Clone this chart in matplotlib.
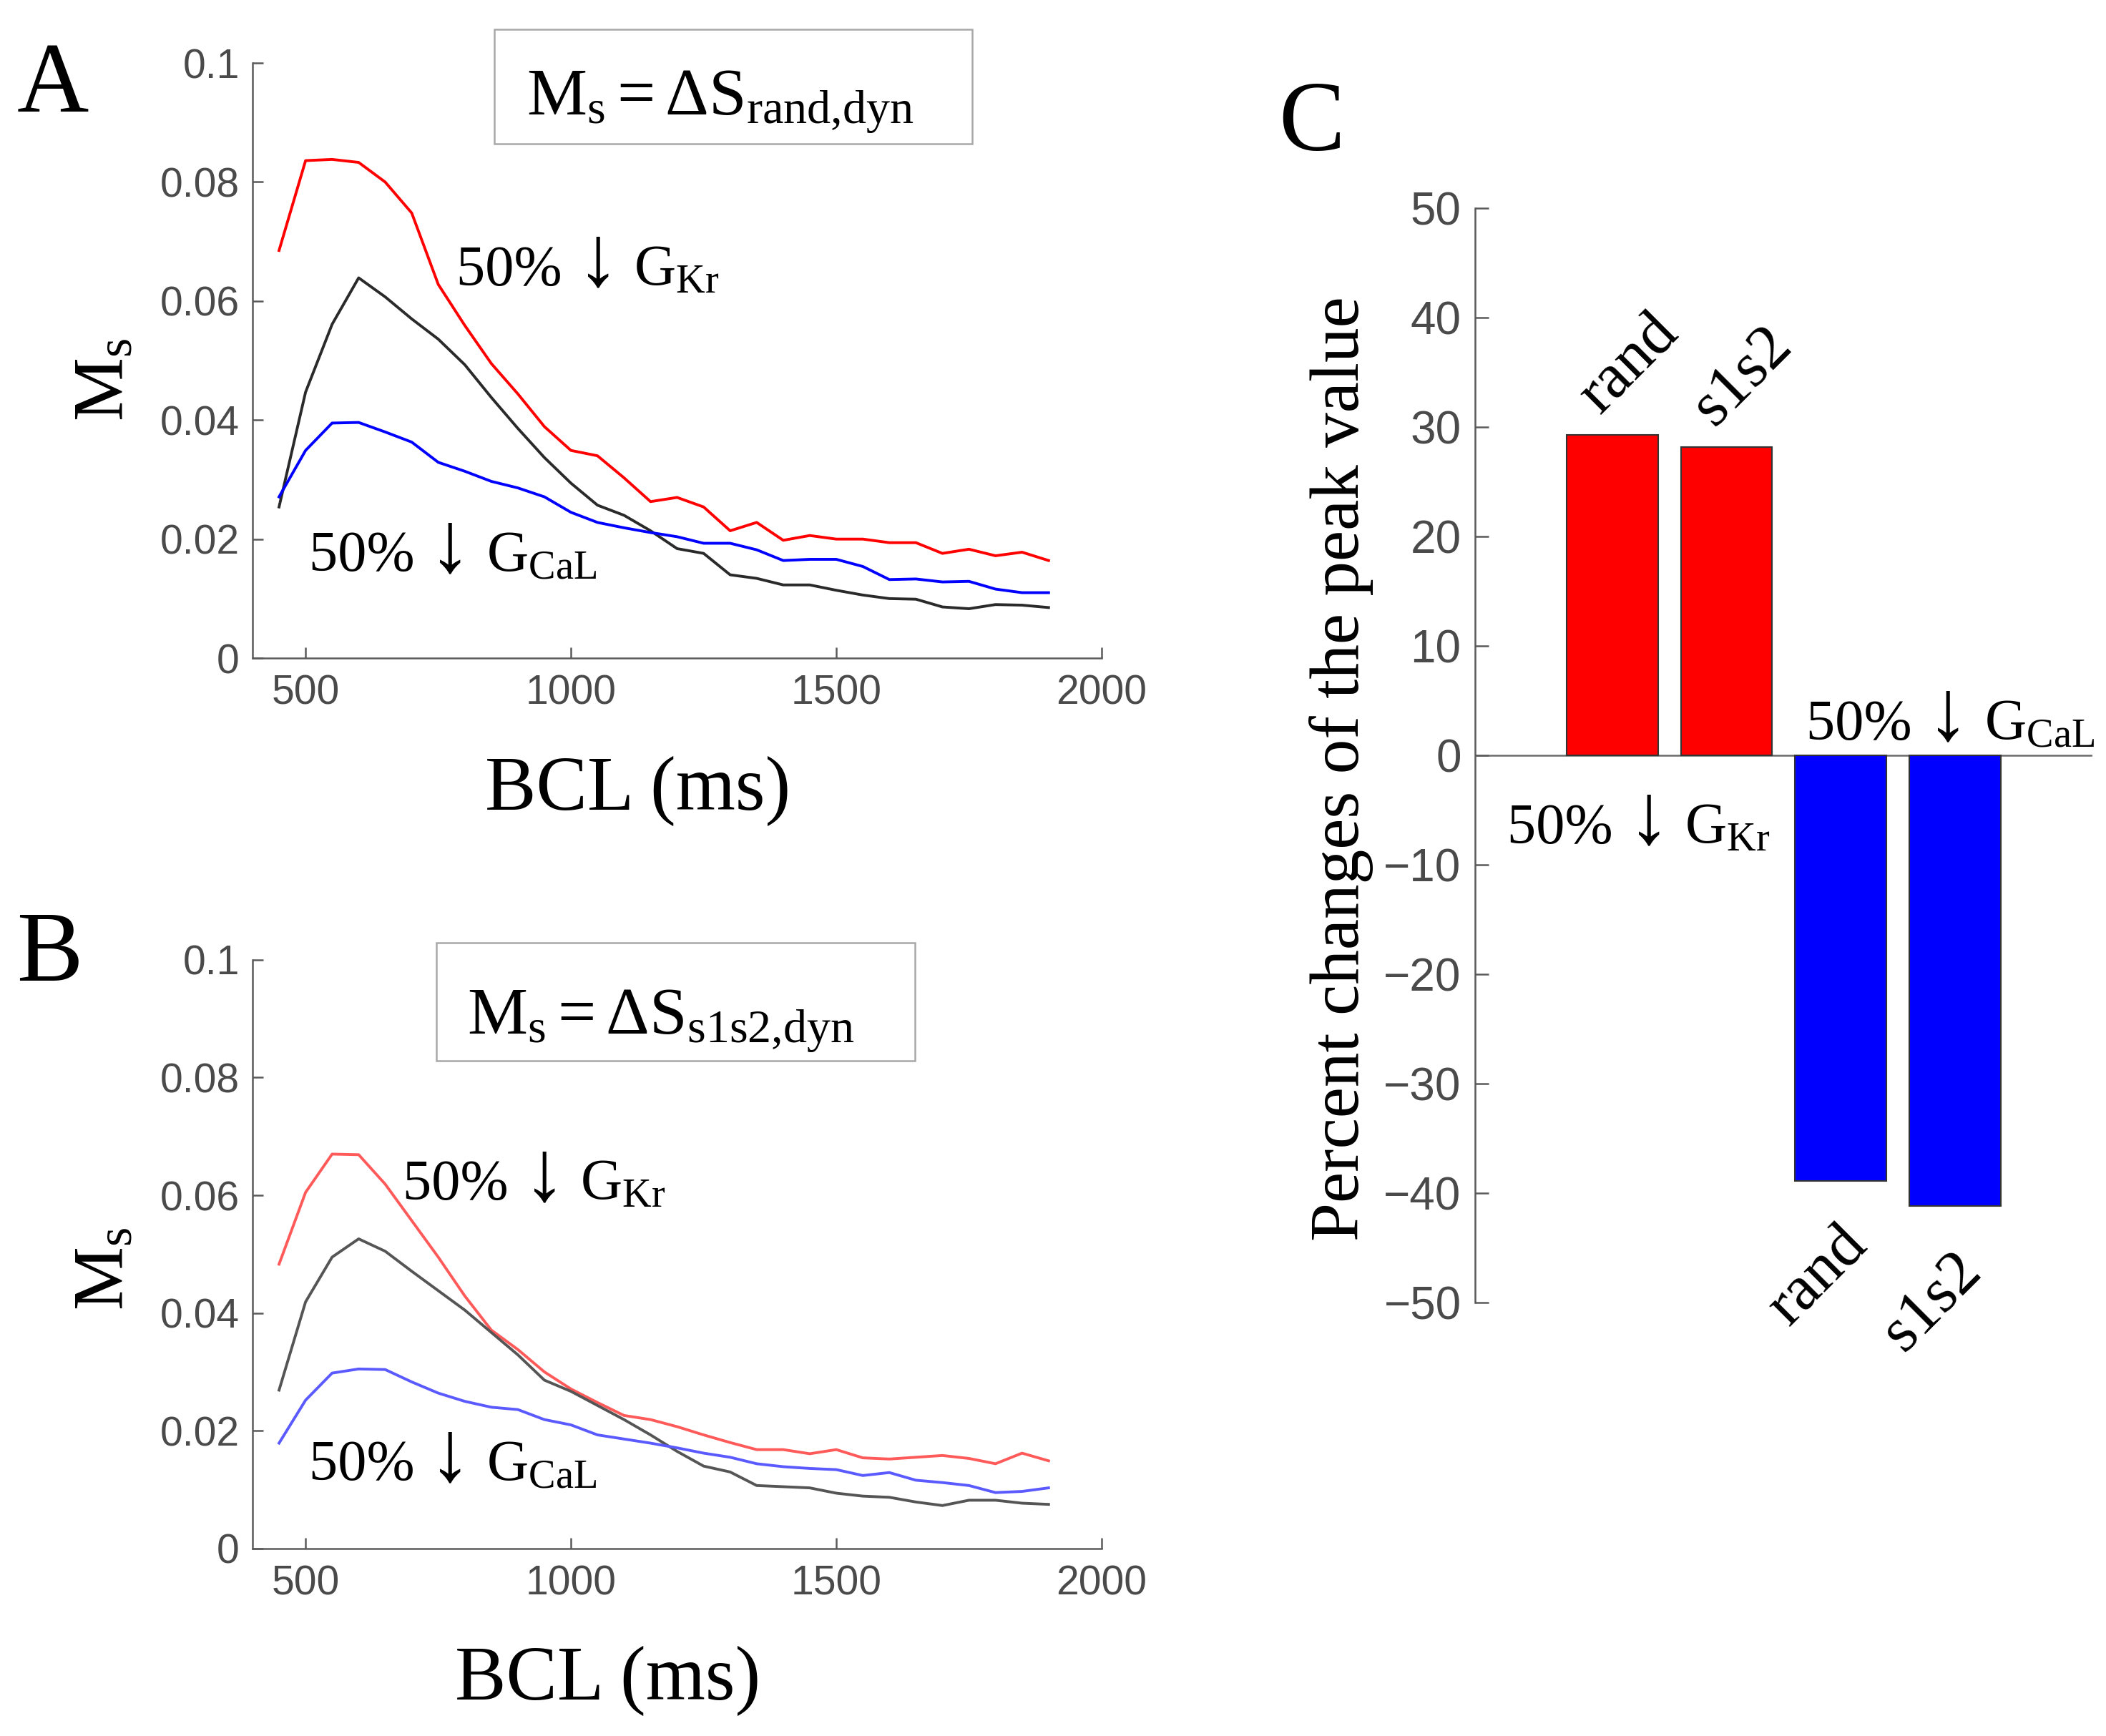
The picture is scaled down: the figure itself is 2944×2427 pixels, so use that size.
import matplotlib
matplotlib.use('Agg')
import matplotlib.pyplot as plt
from matplotlib.patches import Rectangle
from matplotlib.offsetbox import TextArea, HPacker, AnnotationBbox

plt.rcParams['mathtext.fontset'] = 'custom'
plt.rcParams['mathtext.rm'] = 'Liberation Serif'
plt.rcParams['mathtext.it'] = 'Liberation Serif:italic'
plt.rcParams['mathtext.bf'] = 'Liberation Serif:bold'
plt.rcParams['font.family'] = ['Liberation Serif', 'DejaVu Serif']

# ---------------- data ----------------
bcl = [450, 500, 550, 600, 650, 700, 750, 800, 850, 900, 950, 1000, 1050, 1100, 1150,
       1200, 1250, 1300, 1350, 1400, 1450, 1500, 1550, 1600, 1650, 1700, 1750, 1800, 1850, 1900]

a_gkr = [0.0685, 0.0836, 0.0838, 0.0833, 0.0800, 0.0748, 0.0628, 0.0559, 0.0495, 0.0444,
         0.0389, 0.0349, 0.0340, 0.0303, 0.0263, 0.0270, 0.0254, 0.0214, 0.0228, 0.0198,
         0.0206, 0.0200, 0.0200, 0.0194, 0.0194, 0.0176, 0.0183, 0.0172, 0.0178, 0.0164]
a_ctrl = [0.0254, 0.0447, 0.0561, 0.0639, 0.0607, 0.0570, 0.0536, 0.0493, 0.0438, 0.0386,
          0.0337, 0.0294, 0.0257, 0.0240, 0.0214, 0.0184, 0.0176, 0.0140, 0.0134, 0.0123,
          0.0123, 0.0114, 0.0106, 0.0100, 0.0099, 0.0086, 0.0083, 0.0090, 0.0089, 0.0085]
a_gcal = [0.0271, 0.0349, 0.0395, 0.0396, 0.0380, 0.0363, 0.0329, 0.0314, 0.0297, 0.0286,
          0.0271, 0.0245, 0.0228, 0.0219, 0.0211, 0.0204, 0.0193, 0.0193, 0.0182, 0.0164,
          0.0166, 0.0166, 0.0154, 0.0132, 0.0133, 0.0128, 0.0129, 0.0116, 0.0110, 0.0110]

b_gkr = [0.0483, 0.0605, 0.0670, 0.0669, 0.0619, 0.0557, 0.0495, 0.0429, 0.0371, 0.0338,
         0.0300, 0.0271, 0.0248, 0.0226, 0.0219, 0.0207, 0.0193, 0.0180, 0.0168, 0.0168,
         0.0161, 0.0168, 0.0154, 0.0152, 0.0155, 0.0158, 0.0153, 0.0144, 0.0162, 0.0149]
b_ctrl = [0.0269, 0.0419, 0.0495, 0.0526, 0.0505, 0.0471, 0.0438, 0.0405, 0.0367, 0.0329,
          0.0286, 0.0267, 0.0243, 0.0219, 0.0193, 0.0165, 0.0140, 0.0130, 0.0107, 0.0105,
          0.0103, 0.0094, 0.0089, 0.0087, 0.0079, 0.0073, 0.0082, 0.0082, 0.0077, 0.0075]
b_gcal = [0.0179, 0.0252, 0.0298, 0.0305, 0.0304, 0.0283, 0.0264, 0.0250, 0.0240, 0.0236,
          0.0219, 0.0210, 0.0193, 0.0186, 0.0179, 0.0171, 0.0162, 0.0155, 0.0144, 0.0139,
          0.0136, 0.0134, 0.0124, 0.0129, 0.0116, 0.0112, 0.0107, 0.0095, 0.0097, 0.0103]

ms_ticks = [0, 0.02, 0.04, 0.06, 0.08, 0.1]
ms_ticklabels = ['0', '0.02', '0.04', '0.06', '0.08', '0.1']
bcl_ticks = [500, 1000, 1500, 2000]
bcl_ticklabels = ['500', '1000', '1500', '2000']

bar_labels = ['rand', 's1s2', 'rand', 's1s2']
bar_values = [29.3, 28.2, -38.9, -41.2]
bar_colors = ['#ff0000', '#ff0000', '#0000ff', '#0000ff']
pct_ticks = [-50, -40, -30, -20, -10, 0, 10, 20, 30, 40, 50]
pct_ticklabels = [('\u2212%d' % -t) if t < 0 else '%d' % t for t in pct_ticks]

# ---------------- style ----------------
SPINE = '#5a5a5a'
TICKC = '#4a4a4a'
SANS = 'Liberation Sans'

fig = plt.figure(figsize=(29.44, 24.27), dpi=100)
axA = fig.add_axes([0.1199, 0.6209, 0.4032, 0.3428])
axB = fig.add_axes([0.1199, 0.1080, 0.4032, 0.3391])
axC = fig.add_axes([0.7004, 0.2497, 0.2931, 0.6304])


def gate_label(ax, x, y, sub, fs=58):
    parts = [TextArea('50% ', textprops=dict(fontsize=fs)),
             TextArea('\u2193', textprops=dict(fontsize=fs * 1.5)),
             TextArea(' G$_{\\mathrm{%s}}$' % sub, textprops=dict(fontsize=fs))]
    box = HPacker(children=parts, align='baseline', pad=0, sep=0)
    ab = AnnotationBbox(box, (x, y), xycoords='data', xybox=(0, -19),
                        boxcoords='offset points', box_alignment=(0, 0),
                        frameon=False, pad=0, annotation_clip=False)
    ax.add_artist(ab)


def style_line_axes(ax):
    for s in ['top', 'right']:
        ax.spines[s].set_visible(False)
    for s in ['left', 'bottom']:
        ax.spines[s].set_color(SPINE)
        ax.spines[s].set_linewidth(1.8)
    ax.set_xlim(400, 2000)
    ax.set_ylim(0, 0.1)
    ax.set_xticks(bcl_ticks, bcl_ticklabels, fontfamily=SANS)
    ax.set_yticks(ms_ticks, ms_ticklabels, fontfamily=SANS)
    ax.tick_params(direction='in', length=11, width=1.8, color=SPINE,
                   labelcolor=TICKC, labelsize=41)
    ax.tick_params(axis='y', pad=13)
    ax.tick_params(axis='x', pad=16)
    ax.set_xlabel('BCL (ms)', fontsize=77, va='top')
    ax.set_ylabel(r'M$_{\mathrm{s}}$', fontsize=72)


for ax, series, cols in [
        (axA, (a_gkr, a_ctrl, a_gcal), ('#ff0000', '#2a2a2a', '#0000ff')),
        (axB, (b_gkr, b_ctrl, b_gcal), ('#ff5a5a', '#555555', '#5a5aff'))]:
    style_line_axes(ax)
    for yv, c in zip(series, cols):
        ax.plot(bcl, yv, color=c, lw=2.8)

axA.xaxis.set_label_coords(0.454, -0.165)
axB.xaxis.set_label_coords(0.418, -0.165)
axA.yaxis.set_label_coords(-0.135, 0.4675)
axB.yaxis.set_label_coords(-0.135, 0.475)

# formula boxes
for ax, txt, (x0, x1, y0, y1), (tx, ty) in [
        (axA, r'$\mathrm{M_s = \Delta S_{rand{,}dyn}}$', (0.285, 0.8475, 0.864, 1.0565), (0.3227, 0.913)),
        (axB, r'$\mathrm{M_s = \Delta S_{s1s2{,}dyn}}$', (0.2165, 0.780, 0.829, 1.029), (0.2527, 0.874))]:
    ax.add_patch(Rectangle((x0, y0), x1 - x0, y1 - y0, transform=ax.transAxes,
                           fill=False, edgecolor='#a8a8a8', lw=1.8, clip_on=False))
    ax.text(tx, ty, txt, transform=ax.transAxes, fontsize=68, ha='left', va='baseline')

# annotations
gate_label(axA, 784, 0.0627, 'Kr')
gate_label(axA, 506, 0.0147, 'CaL')
gate_label(axB, 683, 0.0593, 'Kr')
gate_label(axB, 506, 0.0117, 'CaL')

# ---------------- panel C ----------------
pos = list(range(1, len(bar_values) + 1))
axC.axhline(0, color='#6a6a6a', lw=1.8, zorder=1)
axC.bar(pos, bar_values, width=0.8, color=bar_colors, edgecolor='#333333', linewidth=1.5, zorder=2)
axC.set_xlim(-0.2, 5.2)
axC.set_ylim(-50, 50)
for s in ['top', 'right', 'bottom']:
    axC.spines[s].set_visible(False)
axC.spines['left'].set_color(SPINE)
axC.spines['left'].set_linewidth(1.8)
axC.set_xticks([])
axC.set_yticks(pct_ticks, pct_ticklabels, fontfamily=SANS)
axC.tick_params(axis='y', direction='in', length=14, width=1.8, color=SPINE,
                labelcolor=TICKC, labelsize=46, pad=14)
axC.set_ylabel('Percent changes of the peak value', fontsize=70)
axC.yaxis.set_label_coords(-0.164, 0.488)

for p, v, lab in zip(pos, bar_values, bar_labels):
    if v > 0:
        axC.text(p - 0.11, v + 1.8, lab, fontsize=64, rotation=45, rotation_mode='anchor',
                 ha='left', va='baseline')
    else:
        axC.text(p - 0.03, v - 3.2, lab, fontsize=64, rotation=45, rotation_mode='anchor',
                 ha='right', va='top')

gate_label(axC, 2.70, 1.5, 'CaL')
gate_label(axC, 0.08, -8.0, 'Kr')

# panel letters
fig.text(0.008, 0.9357, 'A', fontsize=100, ha='left', va='baseline')
fig.text(0.008, 0.4351, 'B', fontsize=100, ha='left', va='baseline')
fig.text(0.607, 0.9134, 'C', fontsize=100, ha='left', va='baseline')

fig.savefig('out.png', dpi=100, facecolor='white')
